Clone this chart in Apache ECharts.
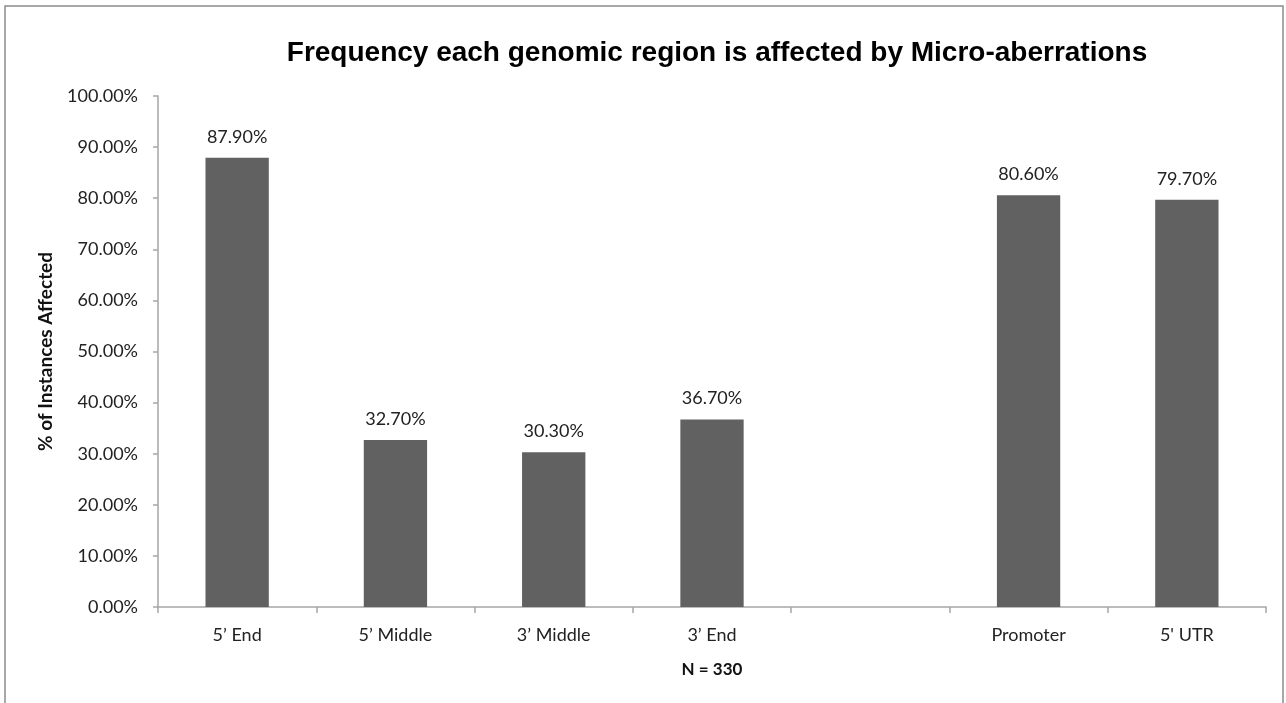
<!DOCTYPE html>
<html>
<head>
<meta charset="utf-8">
<script src="https://cdn.jsdelivr.net/npm/echarts@6/dist/echarts.min.js"></script>
<style>
  html, body { margin: 0; padding: 0; background: #fff; }
  #chart { width: 1286px; height: 703px; }
</style>
</head>
<body>
<div id="chart"></div>
<script>
// chart data
var regions = ["5\u2019 End", "5\u2019 Middle", "3\u2019 Middle", "3\u2019 End", "", "Promoter", "5' UTR"];
var affectedPct = [87.9, 32.7, 30.3, 36.7, null, 80.6, 79.7];
var yTicks = [0, 10, 20, 30, 40, 50, 60, 70, 80, 90, 100];

var AXIS_GREY = "#a6a6a6";
var TEXT_FONT = "Lato, 'Open Sans', sans-serif";

var pct = function(v){
	return v.toFixed(2) + "%";
};

var chart = echarts.init(document.getElementById("chart"));

var option = {
	animation: false,
	backgroundColor: "#fff",
	title: {
		text: "Frequency each genomic region is affected by Micro-aberrations",
		left: 712,
		textAlign: "center",
		top: 34,
		textStyle: {
			fontFamily: "'Liberation Sans', Arial, sans-serif",
			fontWeight: "bold",
			fontSize: 28,
			color: "#000"
		}
	},
	graphic: [{
		type: "rect",
		shape: { x: 5, y: 6, width: 1278, height: 720 },
		style: { fill: "none", stroke: "#8c8c8c", lineWidth: 1.5 },
		silent: true
	}],
	grid: { left: 158, right: 20, top: 96, bottom: 96 },
	xAxis: {
		type: "category",
		data: regions,
		name: "N = 330",
		nameLocation: "middle",
		nameGap: 54,
		nameTextStyle: { fontFamily: TEXT_FONT, fontWeight: "bold", fontSize: 17, color: "#111" },
		axisLine: { lineStyle: { color: AXIS_GREY, width: 1.5 } },
		axisTick: { show: true, length: 6, lineStyle: { color: AXIS_GREY, width: 1.5 } },
		axisLabel: { margin: 19, fontFamily: TEXT_FONT, fontSize: 18, color: "#222" },
		splitLine: { show: false }
	},
	yAxis: {
		type: "value",
		min: yTicks[0],
		max: yTicks[yTicks.length - 1],
		interval: yTicks[1] - yTicks[0],
		name: "% of Instances Affected",
		nameLocation: "middle",
		nameRotate: 90,
		nameGap: 103,
		nameTextStyle: { fontFamily: TEXT_FONT, fontWeight: "bold", fontSize: 19, color: "#111" },
		axisLine: { show: true, lineStyle: { color: AXIS_GREY, width: 1.5 } },
		axisTick: { show: true, length: 5, lineStyle: { color: AXIS_GREY, width: 1.5 } },
		axisLabel: { margin: 20, fontFamily: TEXT_FONT, fontSize: 18, color: "#222", formatter: pct },
		splitLine: { show: false }
	},
	series: [{
		type: "bar",
		data: affectedPct,
		barWidth: "40%",
		itemStyle: { color: "#616161" },
		label: {
			show: true,
			position: "top",
			distance: 12,
			fontFamily: TEXT_FONT,
			fontSize: 18,
			color: "#222",
			formatter: function(p){ return pct(p.value); }
		}
	}]
};

chart.setOption(option);
</script>
</body>
</html>
